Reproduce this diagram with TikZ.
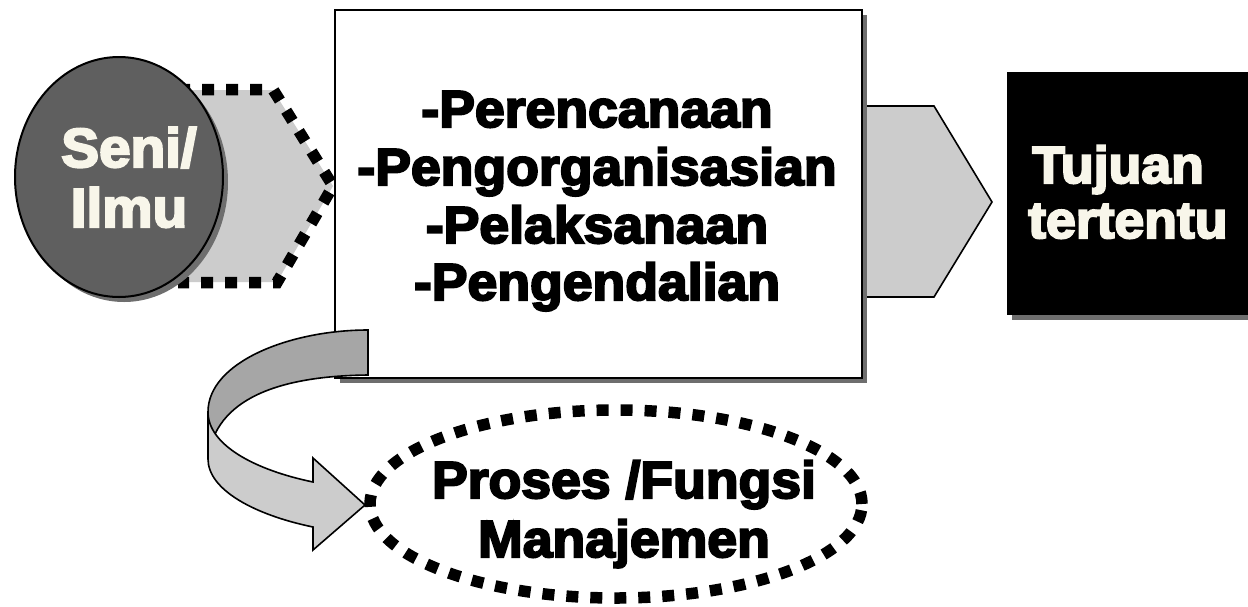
\documentclass[tikz,border=0pt]{standalone}
\usepackage{fontspec}
\newfontfamily\blk[FakeBold=4,FakeStretch=1.03]{Liberation Sans Bold}
\usetikzlibrary{shapes.geometric,shadows}
\definecolor{cream}{HTML}{F8F6EA}
\definecolor{dgray}{HTML}{5F5F5F}
\definecolor{lgray}{HTML}{CCCCCC}
\definecolor{mgray}{HTML}{A6A6A6}
\definecolor{shade}{HTML}{6E6E6E}
\tikzset{
 lbl/.style={font=\blk\fontsize{52}{58}\selectfont, inner sep=0pt, anchor=base},
 biglbl/.style={lbl, font=\blk\fontsize{55}{60}\selectfont, text=cream},
 shad/.style={drop shadow={shadow xshift=5pt, shadow yshift=-5pt, fill=shade, opacity=1}},
 dots/.style={line width=11.5pt, dash pattern=on 12pt off 12pt},
 outl/.style={draw=black, line width=1.6pt},
}
\begin{document}
\begin{tikzpicture}[x=1pt,y=-1pt]
\useasboundingbox (0,0) rectangle (1248,606);
\clip (0,0) rectangle (1248,606);
\fill[white] (0,0) rectangle (1248,606);
% right arrow (behind main box)
\draw[outl, fill=lgray] (850,106) -- (934,106) -- (992,202) -- (934,297) -- (850,297);
% main box
\node[outl, line width=2pt, fill=white, shad, minimum width=527pt, minimum height=368pt, inner sep=0pt] (box) at (598.5,194) {};
% left dotted pentagon
\fill[lgray] (185,90) -- (273,90) -- (333,186) -- (277,282) -- (185,282) -- cycle;
\draw[dots] (178,89.5) -- (273,89.5) -- (333,186) -- (277,282.5) -- (178,282.5);
% circle
\node[ellipse, outl, line width=2pt, fill=dgray, shad, minimum width=208pt, minimum height=240pt, inner sep=0pt] (seni) at (119,177) {};
\node[biglbl] (seni1) at (129,167) {Seni/};
\node[biglbl] (seni2) at (129,227) {Ilmu};
% main text
\node[lbl] (f1) at (597,127) {-Perencanaan};
\node[lbl] (f2) at (597,185) {-Pengorganisasian};
\node[lbl] (f3) at (597,243) {-Pelaksanaan};
\node[lbl] (f4) at (597,300) {-Pengendalian};
% goal box
\node[fill=black, shad, minimum width=260pt, minimum height=243pt, inner sep=0pt] (goal) at (1137,193.5) {};
\node[lbl, anchor=base west, text=cream] (g1) at (1032,183) {Tujuan};
\node[lbl, anchor=base west, text=cream] (g2) at (1028,238) {tertentu};
% curved arrow
\filldraw[outl, fill=mgray] (368,330) .. controls (290,330) and (208,362) .. (208,412) -- (208,459) .. controls (215,398) and (280,376) .. (368,375) -- cycle;
\filldraw[outl, fill=lgray] (208,412) .. controls (208,445) and (255,470) .. (313,482) -- (313,458) -- (365,505) -- (313,550) -- (313,527) .. controls (255,515) and (208,490) .. (208,459) -- cycle;
% bottom ellipse
\node[ellipse, dots, draw, minimum width=492pt, minimum height=188pt, inner sep=0pt] (proc) at (616,504) {};
\node[lbl] (p1) at (624,498) {Proses /Fungsi};
\node[lbl] (p2) at (624,557) {Manajemen};
\end{tikzpicture}
\end{document}
